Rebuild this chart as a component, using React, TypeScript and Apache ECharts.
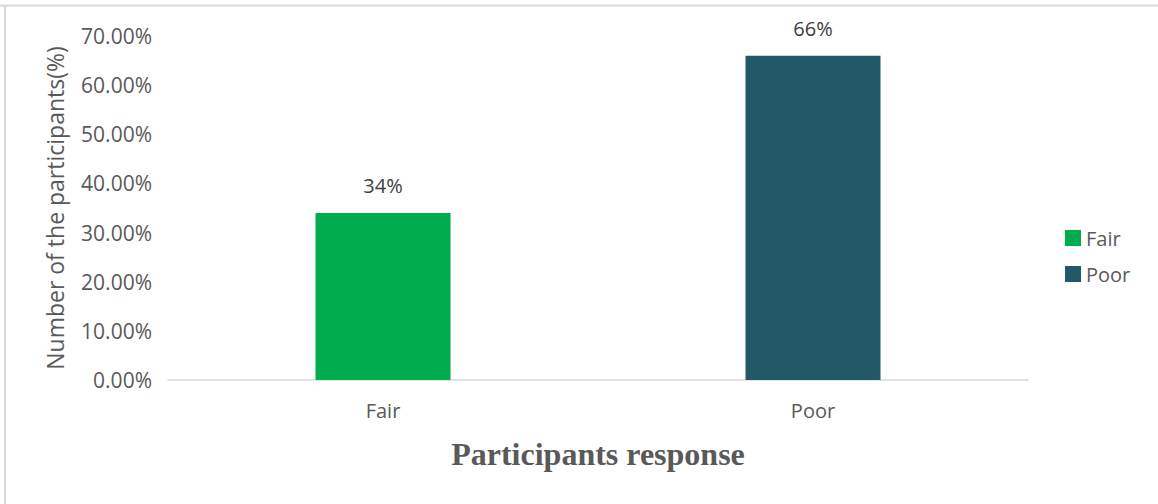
import React, { useEffect, useRef } from "react";
import * as echarts from "echarts";

const categories = ["Fair", "Poor"];
const values = [34, 66];
const colors = ["#00AD4E", "#215967"];
const yTicks = [0, 10, 20, 30, 40, 50, 60, 70];

export default function App() {
  const ref = useRef<HTMLDivElement>(null);

  useEffect(() => {
    if (!ref.current) return;
    const chart = echarts.init(ref.current, null, { renderer: "svg" });
    const font = "'Open Sans', 'Noto Sans', sans-serif";
    chart.setOption({
      animation: false,
      backgroundColor: "#ffffff",
      grid: { left: 168, right: 130, top: 36, bottom: 124, containLabel: false },
      legend: {
        orient: "vertical",
        left: 1060,
        top: 223,
        itemWidth: 16,
        itemHeight: 16,
        itemGap: 16,
        icon: "rect",
        textStyle: { fontFamily: font, fontSize: 20, color: "#595959" },
        data: categories.map((c, i) => ({ name: c, itemStyle: { color: colors[i] } })),
      },
      xAxis: {
        type: "category",
        data: categories,
        axisLine: { lineStyle: { color: "#d9d9d9", width: 1.5 } },
        axisTick: { show: false },
        axisLabel: { fontFamily: font, fontSize: 20, color: "#595959", margin: 20 },
        name: "Participants response",
        nameLocation: "middle",
        nameGap: 58,
        nameTextStyle: {
          fontFamily: "'Liberation Serif', 'Times New Roman', serif",
          fontWeight: "bold",
          fontSize: 32,
          color: "#595959",
        },
      },
      yAxis: {
        type: "value",
        min: yTicks[0],
        max: yTicks[yTicks.length - 1],
        interval: 10,
        splitLine: { show: false },
        axisLine: { show: false },
        axisTick: { show: false },
        axisLabel: {
          fontFamily: font,
          fontSize: 21,
          color: "#595959",
          margin: 16,
          formatter: (v: number) => v.toFixed(2) + "%",
        },
        name: "Number of the participants(%)",
        nameLocation: "middle",
        nameGap: 102,
        nameTextStyle: { fontFamily: font, fontSize: 23, color: "#595959" },
      },
      series: categories.map((c, i) => ({
        name: c,
        type: "bar",
        stack: "all",
        barWidth: 135,
        data: categories.map((_, j) => (j === i ? values[i] : null)),
        itemStyle: { color: colors[i] },
        label: {
          show: true,
          position: "top",
          distance: 17,
          fontFamily: font,
          fontSize: 20,
          color: "#404040",
          formatter: (p: any) => p.value + "%",
        },
      })),
      graphic: [
        { type: "line", shape: { x1: 0, y1: 5.5, x2: 1158, y2: 5.5 }, style: { stroke: "#d9d9d9", lineWidth: 2 } },
        { type: "line", shape: { x1: 5, y1: 5, x2: 5, y2: 504 }, style: { stroke: "#d9d9d9", lineWidth: 2 } },
      ],
    });
    return () => chart.dispose();
  }, []);

  return (
    <div
      ref={ref}
      style={{ position: "fixed", left: 0, top: 0, width: 1158, height: 504 }}
    />
  );
}
